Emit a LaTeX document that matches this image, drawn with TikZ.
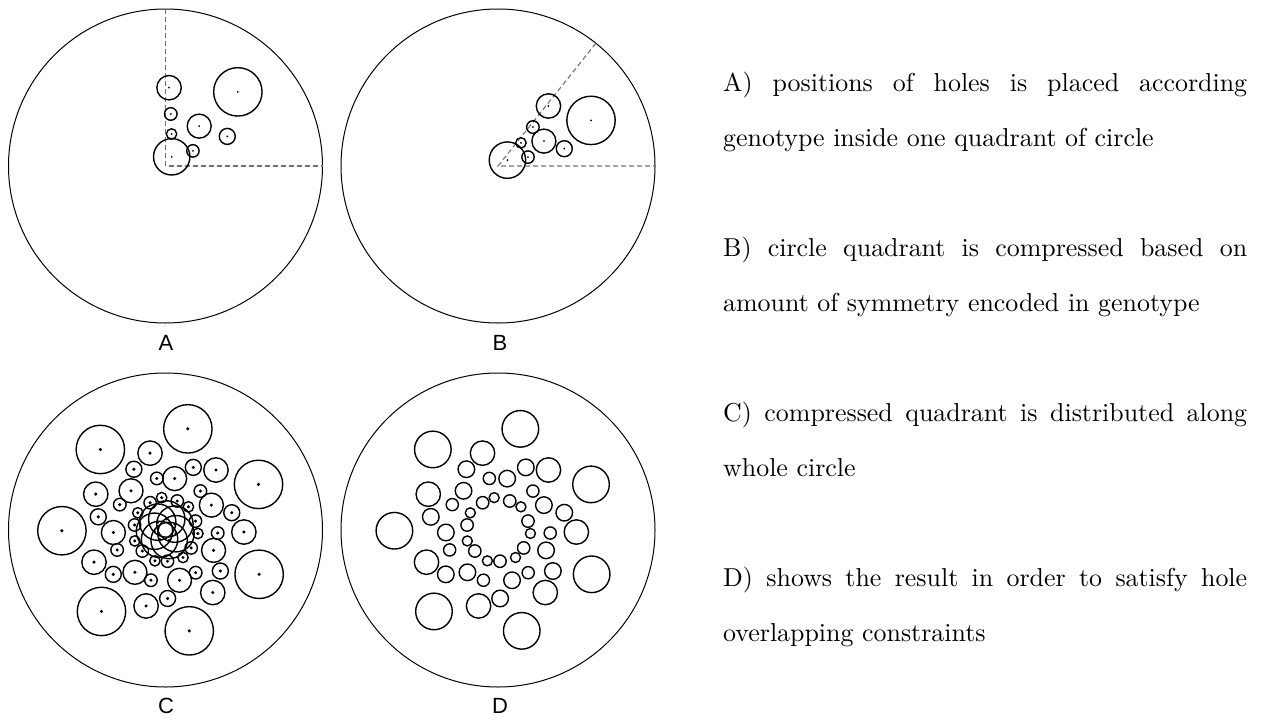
\documentclass[tikz,border=0pt]{standalone}
\usepackage{fontspec}
\usepackage{graphicx}
\newfontfamily\labelfont{Liberation Sans}
\begin{document}
\begin{tikzpicture}[x=1pt,y=-1pt,
  outer/.style={line width=1pt},
  hole/.style={line width=1.4pt},
  guide/.style={line width=1.1pt, black!55, dash pattern=on 5pt off 3pt},
  lab/.style={font=\labelfont\fontsize{22}{22}\selectfont, anchor=base, inner sep=0pt},
  txt/.style={anchor=base west, inner sep=0pt}]
\useasboundingbox (0,0) rectangle (1267,720);

% ---------- A ----------
\begin{scope}[shift={(165.5,166)}]
  \draw[outer] (0,0) circle[radius=157pt];
  \draw[guide] (0,-157) -- (0,0) -- (157,0);
  \foreach \r/\a/\s in {78.4/87.4/12.2, 103.6/45.7/24.2, 52.3/84.2/6.3, 52.2/49.8/12,
                        68.5/25.6/8, 32.6/79.3/5.2, 31.3/28.9/6.2, 11.1/56/18.2} {
    \draw[hole] (-\a:\r) circle[radius=\s pt];
    \fill (-\a:\r) circle[radius=1pt];
  }
\end{scope}
\node[lab] (la) at (166,350) {A};

% ---------- B ----------
\begin{scope}[shift={(498,166)}]
  \draw[outer] (0,0) circle[radius=157pt];
  \draw[guide] (-51.4286:157) -- (0,0) -- (157,0);
  \foreach \r/\a/\s in {78.4/87.4/12.2, 103.6/45.7/24.2, 52.3/84.2/6.3, 52.2/49.8/12,
                        68.5/25.6/8, 32.6/79.3/5.2, 31.3/28.9/6.2, 11.1/56/18.2} {
    \draw[hole] ({-\a/1.75}:\r) circle[radius=\s pt];
    \fill ({-\a/1.75}:\r) circle[radius=1pt];
  }
\end{scope}
\node[lab] (lb) at (500,350) {B};

% ---------- C ----------
\begin{scope}[shift={(165.5,530)}]
  \draw[outer] (0,0) circle[radius=157pt];
  \foreach \k in {0,...,6} {
    \foreach \r/\a/\s in {78.4/87.4/12.2, 103.6/45.7/24.2, 52.3/84.2/6.3, 52.2/49.8/12,
                          68.5/25.6/8, 32.6/79.3/5.2, 31.3/28.9/6.2, 11.1/56/18.2} {
      \draw[hole] ({-(\a/1.75+\k*51.4286)}:\r) circle[radius=\s pt];
      \fill ({-(\a/1.75+\k*51.4286)}:\r) circle[radius=1.7pt];
    }
  }
\end{scope}
\node[lab] (lc) at (166,713) {C};

% ---------- D ----------
\begin{scope}[shift={(498,530)}]
  \draw[outer] (0,0) circle[radius=157pt];
  \foreach \k in {0,...,6} {
    \foreach \r/\a/\s in {78.4/87.4/12.2, 103.6/45.7/18.3, 52.3/84.2/6.1, 52.2/49.8/8.3,
                          68.5/25.6/8.3, 32.6/79.3/5, 31.3/28.9/6.2} {
      \draw[hole] ({-(\a/1.75+\k*51.4286)}:\r) circle[radius=\s pt];
    }
  }
\end{scope}
\node[lab] (ld) at (500,713) {D};

% ---------- text ----------
\node[txt] (a1) at (723,91)  {\scalebox{2.59}{\makebox[202.3pt][s]{A) positions of holes is placed according}}};
\node[txt] (a2) at (723,146) {\scalebox{2.59}{genotype inside one quadrant of circle}};
\node[txt] (b1) at (723,256) {\scalebox{2.59}{\makebox[202.3pt][s]{B) circle quadrant is compressed based on}}};
\node[txt] (b2) at (723,311) {\scalebox{2.59}{amount of symmetry encoded in genotype}};
\node[txt] (c1) at (723,421) {\scalebox{2.59}{\makebox[202.3pt][s]{C) compressed quadrant is distributed along}}};
\node[txt] (c2) at (723,476) {\scalebox{2.59}{whole circle}};
\node[txt] (d1) at (723,586) {\scalebox{2.59}{\makebox[202.3pt][s]{D) shows the result in order to satisfy hole}}};
\node[txt] (d2) at (723,641) {\scalebox{2.59}{overlapping constraints}};
\end{tikzpicture}
\end{document}
